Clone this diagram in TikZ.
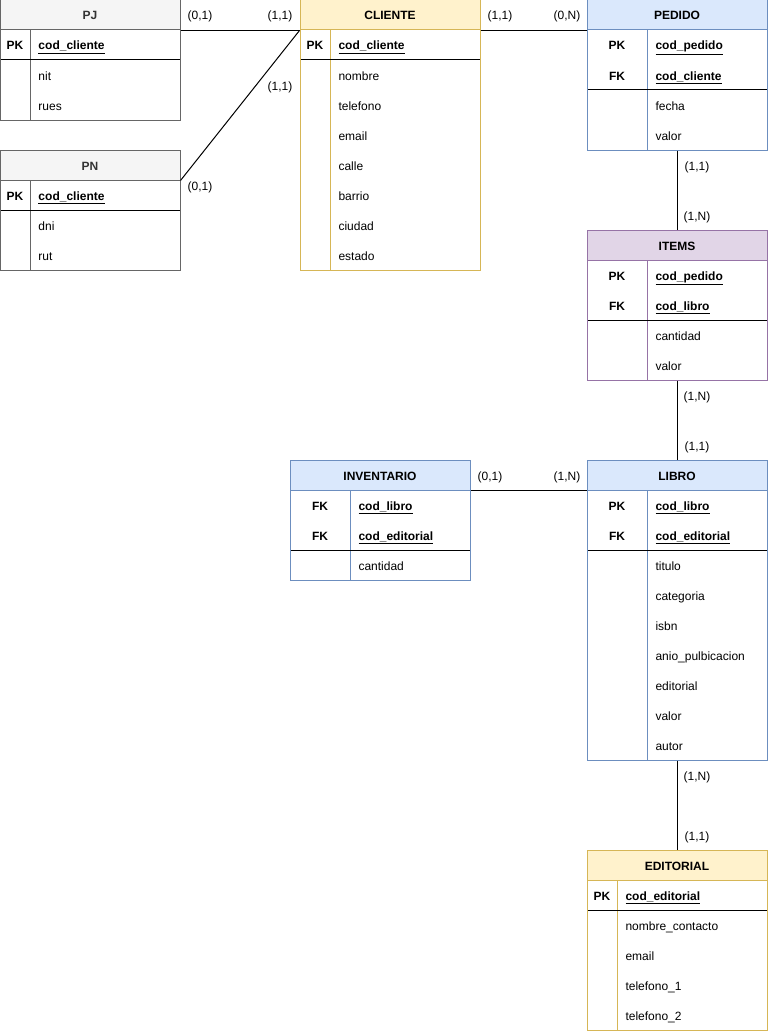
\documentclass[tikz,border=0pt]{standalone}
\usepackage{fontspec}
\setmainfont{Liberation Sans}
\usetikzlibrary{fit}
\definecolor{grayF}{HTML}{F5F5F5}
\definecolor{grayS}{HTML}{666666}
\definecolor{grayT}{HTML}{333333}
\definecolor{yelF}{HTML}{FFF2CC}
\definecolor{yelS}{HTML}{D6B656}
\definecolor{bluF}{HTML}{DAE8FC}
\definecolor{bluS}{HTML}{6C8EBF}
\definecolor{purF}{HTML}{E1D5E7}
\definecolor{purS}{HTML}{9673A6}
% #1 name, #2 x, #3 y, #4 height, #5 fill, #6 stroke, #7 key column width, #8 key rows
\newcommand{\ertab}[8]{%
  \fill[#5] (#2,#3) rectangle (#2+180,#3+30);
  \fill[white] (#2,#3+30) rectangle (#2+180,#3+#4);
  \node[fit={(#2,#3)(#2+180,#3+30)}, inner sep=0pt] (#1-hd) {};
  \draw[#6] (#2,#3+30) -- (#2+180,#3+30);
  \draw[#6] (#2+#7,#3+30) -- (#2+#7,#3+#4);
  \draw[black] (#2,#3+30+30*#8) -- (#2+180,#3+30+30*#8);
  \node[fit={(#2,#3)(#2+180,#3+#4)}, draw=#6, inner sep=0pt] (#1) {};
}
\begin{document}
\begin{tikzpicture}[x=0.75pt,y=-0.75pt,line width=0.75pt,
  txt/.style={font=\fontsize{9pt}{11pt}\selectfont, inner sep=0pt, anchor=base, yshift=-0.75pt},
  hdr/.style={txt, font=\fontsize{9pt}{11pt}\selectfont\bfseries},
  keyt/.style={hdr},
  fld/.style={txt, anchor=base west},
  kfld/.style={hdr, anchor=base west},
  card/.style={txt},
  conn/.style={draw=black, line width=0.75pt}]
\fill[white] (0,0) rectangle (768,1031);
\useasboundingbox (0,0) rectangle (768,1031);

% PJ
\ertab{pj}{0}{0}{120}{grayF}{grayS}{30}{1}
\node[hdr, text=grayT] (pj-t) at (90,19) {PJ};
\node[keyt] (pj-k1) at (15,49) {PK};
\node[kfld] (pj-f0) at (38,49) {\underline{cod\_cliente}};
\node[fld] (pj-f1) at (38,79) {nit};
\node[fld] (pj-f2) at (38,109) {rues};

% PN
\ertab{pn}{0}{150}{120}{grayF}{grayS}{30}{1}
\node[hdr, text=grayT] (pn-t) at (90,169) {PN};
\node[keyt] (pn-k1) at (15,199) {PK};
\node[kfld] (pn-f0) at (38,199) {\underline{cod\_cliente}};
\node[fld] (pn-f1) at (38,229) {dni};
\node[fld] (pn-f2) at (38,259) {rut};

% CLIENTE
\ertab{cli}{300}{0}{270}{yelF}{yelS}{30}{1}
\node[hdr] (cli-t) at (390,19) {CLIENTE};
\node[keyt] (cli-k1) at (315,49) {PK};
\node[kfld] (cli-f0) at (338,49) {\underline{cod\_cliente}};
\foreach \t [count=\i] in {nombre,telefono,email,calle,barrio,ciudad,estado}
  \node[fld] (cli-f\i) at (338,49+30*\i) {\t};

% PEDIDO
\ertab{ped}{587}{0}{150}{bluF}{bluS}{60}{2}
\node[hdr] (ped-t) at (677,19) {PEDIDO};
\node[keyt] (ped-k1) at (617,49) {PK};
\node[keyt] (ped-k2) at (617,79) {FK};
\node[kfld] (ped-f1) at (655,49) {\underline{cod\_pedido}};
\node[kfld] (ped-f2) at (655,79) {\underline{cod\_cliente}};
\node[fld] (ped-f3) at (655,109) {fecha};
\node[fld] (ped-f4) at (655,139) {valor};

% ITEMS
\ertab{ite}{587}{230}{150}{purF}{purS}{60}{2}
\node[hdr] (ite-t) at (677,249) {ITEMS};
\node[keyt] (ite-k1) at (617,279) {PK};
\node[keyt] (ite-k2) at (617,309) {FK};
\node[kfld] (ite-f1) at (655,279) {\underline{cod\_pedido}};
\node[kfld] (ite-f2) at (655,309) {\underline{cod\_libro}};
\node[fld] (ite-f3) at (655,339) {cantidad};
\node[fld] (ite-f4) at (655,369) {valor};

% LIBRO
\ertab{lib}{587}{460}{300}{bluF}{bluS}{60}{2}
\node[hdr] (lib-t) at (677,479) {LIBRO};
\node[keyt] (lib-k1) at (617,509) {PK};
\node[keyt] (lib-k2) at (617,539) {FK};
\node[kfld] (lib-f1) at (655,509) {\underline{cod\_libro}};
\node[kfld] (lib-f2) at (655,539) {\underline{cod\_editorial}};
\foreach \t [count=\i] in {titulo,categoria,isbn,anio\_pulbicacion,editorial,valor,autor}
  \node[fld] (lib-g\i) at (655,539+30*\i) {\t};

% INVENTARIO
\ertab{inv}{290}{460}{120}{bluF}{bluS}{60}{2}
\node[hdr] (inv-t) at (380,479) {INVENTARIO};
\node[keyt] (inv-k1) at (320,509) {FK};
\node[keyt] (inv-k2) at (320,539) {FK};
\node[kfld] (inv-f1) at (358,509) {\underline{cod\_libro}};
\node[kfld] (inv-f2) at (358,539) {\underline{cod\_editorial}};
\node[fld] (inv-f3) at (358,569) {cantidad};

% EDITORIAL
\ertab{edi}{587}{850}{180}{yelF}{yelS}{30}{1}
\node[hdr] (edi-t) at (677,869) {EDITORIAL};
\node[keyt] (edi-k1) at (602,899) {PK};
\node[kfld] (edi-f0) at (625,899) {\underline{cod\_editorial}};
\foreach \t [count=\i] in {nombre\_contacto,email,telefono\_1,telefono\_2}
  \node[fld] (edi-f\i) at (625,899+30*\i) {\t};

% connectors
\draw[conn] (pj-hd.south east) -- (cli-hd.south west);
\draw[conn] (pn-hd.south east) -- (cli-hd.south west);
\draw[conn] (cli-hd.south east) -- (ped-hd.south west);
\draw[conn] (ped.south) -- (ite.north);
\draw[conn] (ite.south) -- (lib.north);
\draw[conn] (inv-hd.south east) -- (lib-hd.south west);
\draw[conn] (lib.south) -- (edi.north);

% cardinalities
\node[card] (c1) at (200,19) {(0,1)};
\node[card] (c2) at (280,19) {(1,1)};
\node[card] (c3) at (280,89) {(1,1)};
\node[card] (c4) at (200,189) {(0,1)};
\node[card] (c5) at (500,19) {(1,1)};
\node[card] (c6) at (567,19) {(0,N)};
\node[card] (c7) at (697,169) {(1,1)};
\node[card] (c8) at (697,219) {(1,N)};
\node[card] (c9) at (697,399) {(1,N)};
\node[card] (c10) at (697,449) {(1,1)};
\node[card] (c11) at (490,479) {(0,1)};
\node[card] (c12) at (567,479) {(1,N)};
\node[card] (c13) at (697,779) {(1,N)};
\node[card] (c14) at (697,839) {(1,1)};
\end{tikzpicture}
\end{document}
